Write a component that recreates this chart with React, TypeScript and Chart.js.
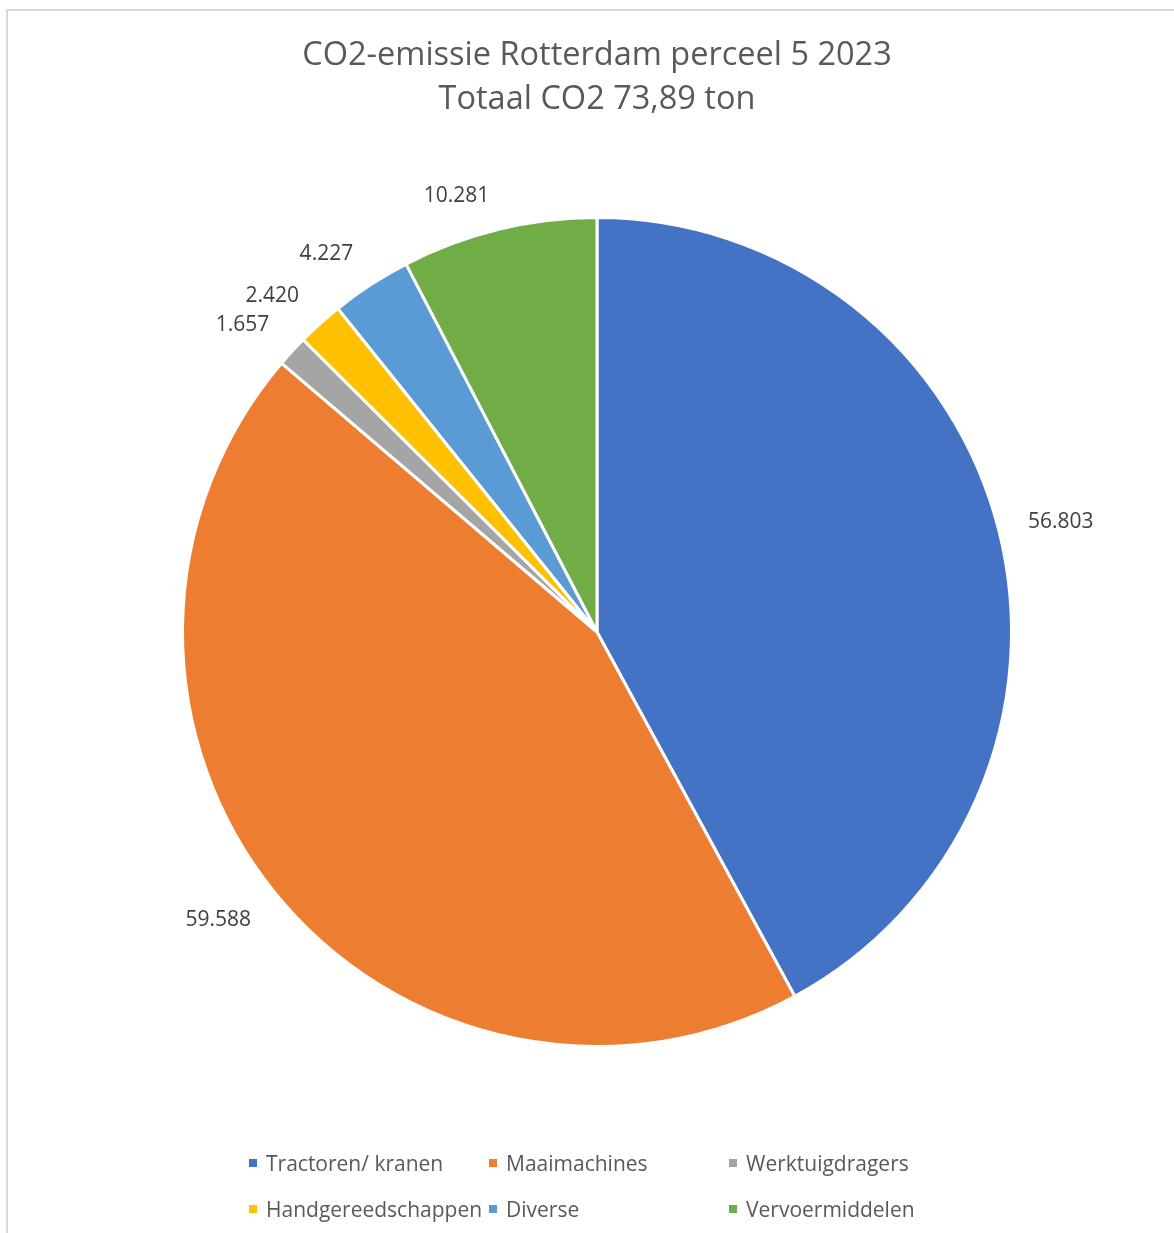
import React, { useEffect, useRef } from "react";
import { Chart, registerables } from "chart.js";

Chart.register(...registerables);

const titleLines = ["CO2-emissie Rotterdam perceel 5 2023", "Totaal CO2 73,89 ton"];
const categories = [
  "Tractoren/ kranen",
  "Maaimachines",
  "Werktuigdragers",
  "Handgereedschappen",
  "Diverse",
  "Vervoermiddelen",
];
const values = [56.803, 59.588, 1.657, 2.42, 4.227, 10.281];
const colors = ["#4472C4", "#ED7D31", "#A5A5A5", "#FFC000", "#5B9BD5", "#70AD47"];

const FONT = '"Open Sans", "Noto Sans", sans-serif';

const decorPlugin = {
  id: "decor",
  beforeDraw(chart: any) {
    const ctx = chart.ctx;
    ctx.save();
    ctx.fillStyle = "#ffffff";
    ctx.fillRect(0, 0, chart.width, chart.height);
    ctx.fillStyle = "#d9d9d9";
    ctx.fillRect(6, 9, chart.width, 2);
    ctx.fillRect(6, 9, 2, chart.height);
    ctx.restore();
  },
  afterDraw(chart: any) {
    const ctx = chart.ctx;
    ctx.save();
    // title
    ctx.fillStyle = "#595959";
    ctx.font = `32.5px ${FONT}`;
    ctx.textAlign = "center";
    ctx.textBaseline = "alphabetic";
    ctx.fillText(titleLines[0], 597, 65);
    ctx.fillText(titleLines[1], 597, 109);

    // data labels
    const meta = chart.getDatasetMeta(0);
    const data = chart.data.datasets[0].data as number[];
    ctx.font = `21px ${FONT}`;
    ctx.fillStyle = "#404040";
    meta.data.forEach((arc: any, i: number) => {
      const p = arc.getProps(["x", "y", "startAngle", "endAngle", "outerRadius"], true);
      const mid = (p.startAngle + p.endAngle) / 2;
      const dx = Math.cos(mid);
      const dy = Math.sin(mid);
      const d = p.outerRadius + 27;
      const ax = p.x + dx * d;
      const ay = p.y + dy * d;
      ctx.textAlign = dx >= 0 ? "left" : "right";
      const tx = ax + (dx >= 0 ? 3 : -3);
      const cy = ay + Math.max(-1, Math.min(1, dy * 1.5)) * 9;
      ctx.fillText(data[i].toFixed(3), tx, cy + 7.5);
    });

    // legend
    const colX = [249, 489, 729];
    const rowY = [1163, 1209];
    ctx.font = `21px ${FONT}`;
    ctx.textAlign = "left";
    const labels = chart.data.labels as string[];
    labels.forEach((lab, i) => {
      const c = i % 3;
      const r = Math.floor(i / 3);
      const x = colX[c];
      const y = rowY[r];
      ctx.fillStyle = colors[i];
      ctx.fillRect(x, y - 4, 8, 8);
      ctx.fillStyle = "#595959";
      ctx.fillText(lab, x + 17, y + 7.5);
    });
    ctx.restore();
  },
};

export default function App() {
  const ref = useRef<HTMLCanvasElement | null>(null);
  useEffect(() => {
    if (!ref.current) return;
    const chart = new Chart(ref.current, {
      type: "pie",
      data: {
        labels: categories,
        datasets: [
          {
            data: values,
            backgroundColor: colors,
            borderColor: "#ffffff",
            borderWidth: 3,
          },
        ],
      },
      options: {
        responsive: false,
        animation: false,
        layout: { padding: { left: 181, right: 161, top: 216, bottom: 185 } },
        plugins: {
          legend: { display: false },
          title: { display: false },
          tooltip: { enabled: false },
        },
      },
      plugins: [decorPlugin],
    });
    return () => chart.destroy();
  }, []);
  return (
    <div style={{ position: "absolute", left: 0, top: 0, width: 1174, height: 1233 }}>
      <canvas ref={ref} width={1174} height={1233} style={{ display: "block" }} />
    </div>
  );
}
